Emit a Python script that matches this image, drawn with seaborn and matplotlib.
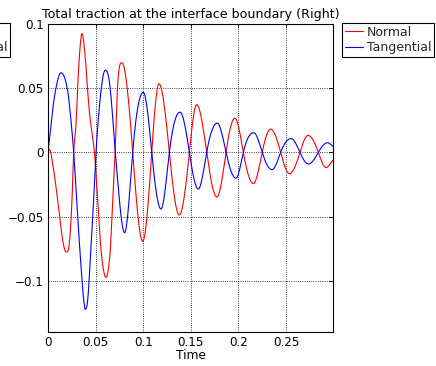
import numpy as np
import pandas as pd
import matplotlib
matplotlib.use("Agg")
import matplotlib.pyplot as plt
import seaborn as sns

# Normal traction: time (s) and value at turning points / crossings along the curve
normal_t = [0.0, 0.0015, 0.0049, 0.0102, 0.0154, 0.0189, 0.0224, 0.0252, 0.0270,
            0.0294, 0.0318, 0.0357, 0.0392, 0.0417, 0.0434, 0.0459, 0.0488,
            0.0522, 0.0557, 0.0609, 0.0654, 0.0680, 0.0705, 0.0732, 0.0777,
            0.0890, 0.0995, 0.1090, 0.1166, 0.1275, 0.1379, 0.1485, 0.1562,
            0.1667, 0.1775, 0.1870, 0.1963, 0.2052, 0.2157, 0.2250, 0.2339,
            0.2444, 0.2537, 0.2647, 0.2731, 0.2840, 0.2920, 0.2994]
normal_v = [0.0, 0.0023, -0.0088, -0.0373, -0.0684, -0.0775, -0.0710, -0.0373, 0.0,
            0.0218, 0.0607, 0.0925, 0.0736, 0.0477, 0.0321, 0.0166, 0.0,
            -0.0373, -0.0762, -0.0974, -0.0762, -0.0370, 0.0, 0.0530, 0.0698,
            0.0, -0.0692, 0.0, 0.0534, 0.0, -0.0488, 0.0, 0.0371,
            0.0, -0.0348, 0.0, 0.0266, 0.0, -0.0243, 0.0, 0.0181,
            0.0, -0.0166, 0.0, 0.0132, 0.0, -0.0119, -0.0062]

# Tangential traction
tangential_t = [0.0, 0.0032, 0.0066, 0.0137, 0.0207, 0.0242, 0.0270, 0.0312,
                0.0347, 0.0375, 0.0392, 0.0417, 0.0444, 0.0470, 0.0494, 0.0504,
                0.0539, 0.0575, 0.0602, 0.0644, 0.0680, 0.0707, 0.0804, 0.0890,
                0.1001, 0.1090, 0.1187, 0.1275, 0.1387, 0.1485, 0.1579, 0.1667,
                0.1778, 0.1870, 0.1975, 0.2052, 0.2161, 0.2250, 0.2353, 0.2444,
                0.2553, 0.2647, 0.2736, 0.2840, 0.2936, 0.2994]
tangential_v = [0.0, 0.0218, 0.0425, 0.0620, 0.0477, 0.0243, 0.0, -0.0503,
                -0.0892, -0.1150, -0.1223, -0.1150, -0.0840, -0.0500, -0.0140, 0.0,
                0.0348, 0.0580, 0.0640, 0.0555, 0.0270, 0.0, -0.0627, 0.0,
                0.0467, 0.0, -0.0442, 0.0, 0.0313, 0.0, -0.0286, 0.0,
                0.0228, 0.0, -0.0202, 0.0, 0.0153, 0.0, -0.0135, 0.0,
                0.0107, 0.0, -0.0091, 0.0, 0.0075, 0.0047]

series_names = ["Normal", "Tangential"]
series_colors = {"Normal": "#ff0000", "Tangential": "#0000ff"}

x_ticks = [0, 0.05, 0.1, 0.15, 0.2, 0.25]
x_tick_labels = ["0", "0.05", "0.1", "0.15", "0.2", "0.25"]
y_ticks = [-0.1, -0.05, 0, 0.05, 0.1]
y_tick_labels = ["\u22120.1", "\u22120.05", "0", "0.05", "0.1"]


def smooth_curve(tk, vk, per_seg=30):
    """Cubic Hermite trace through the knots; flat tangents at turning points."""
    tk = np.asarray(tk, float)
    vk = np.asarray(vk, float)
    n = len(tk)
    sec = np.diff(vk) / np.diff(tk)
    turning = np.zeros(n, bool)
    for i in range(1, n - 1):
        turning[i] = (vk[i] - vk[i - 1]) * (vk[i + 1] - vk[i]) <= 0
    m = np.zeros(n)
    m[0], m[-1] = sec[0], sec[-1]
    for i in range(1, n - 1):
        if turning[i]:
            m[i] = 0.0
        else:
            k = np.pi / 2 if (turning[i - 1] and turning[i + 1]) else 1.0
            m[i] = 0.5 * (sec[i - 1] + sec[i]) * k
    ts, vs = [], []
    for i in range(n - 1):
        h = tk[i + 1] - tk[i]
        s = np.linspace(0, 1, per_seg, endpoint=(i == n - 2))
        h00 = 2 * s**3 - 3 * s**2 + 1
        h10 = s**3 - 2 * s**2 + s
        h01 = -2 * s**3 + 3 * s**2
        h11 = s**3 - s**2
        ts.append(tk[i] + s * h)
        vs.append(h00 * vk[i] + h10 * h * m[i] + h01 * vk[i + 1] + h11 * h * m[i + 1])
    return np.concatenate(ts), np.concatenate(vs)


frames = []
for name, tk, vk in [("Normal", normal_t, normal_v),
                     ("Tangential", tangential_t, tangential_v)]:
    t, v = smooth_curve(tk, vk)
    frames.append(pd.DataFrame({"Time": t, "value": v, "series": name}))
df = pd.concat(frames, ignore_index=True)

sns.set_theme(style="white")
plt.rcParams["font.family"] = ["DejaVu Sans"]
plt.rcParams["axes.unicode_minus"] = True

W, H = 436, 366
fig = plt.figure(figsize=(W / 100, H / 100), dpi=100)
fig.patch.set_facecolor("white")
ax = fig.add_axes([48 / W, 1 - 332 / H, (333 - 48) / W, (332 - 24) / H])

sns.lineplot(data=df, x="Time", y="value", hue="series", hue_order=series_names,
             palette=series_colors, estimator=None, sort=False, linewidth=0.8,
             legend=False, ax=ax)

ax.set_xlim(0, normal_t[-1])
ax.set_ylim(-0.14, 0.1)
ax.set_xticks(x_ticks)
ax.set_xticklabels(x_tick_labels)
ax.set_yticks(y_ticks)
ax.set_yticklabels(y_tick_labels)
ax.tick_params(direction="in", top=True, right=True, length=3, width=0.6,
               labelsize=8.6, colors="black", pad=3)
ax.grid(True, linestyle=":", color="black", linewidth=0.6)
for sp in ax.spines.values():
    sp.set_color("black")
    sp.set_linewidth(0.8)
ax.set_xlabel("Time", fontsize=8.8, labelpad=0, color="black")
ax.set_ylabel("")
ax.set_title("Total traction at the interface boundary (Right)", fontsize=9.1,
             pad=4, color="black")

handles = [plt.Line2D([], [], color=series_colors[s], linewidth=0.8) for s in series_names]
legend_style = dict(frameon=True, fancybox=False, edgecolor="black", fontsize=9.0,
                    borderpad=0.2, handlelength=1.5, handletextpad=0.3,
                    labelspacing=0.22, borderaxespad=0, framealpha=1)
leg = fig.legend(handles, series_names, loc="upper left",
                 bbox_to_anchor=(342 / W, 1 - 23 / H), **legend_style)
leg.get_frame().set_linewidth(0.8)
leg2 = fig.legend(handles, series_names, loc="upper right",
                  bbox_to_anchor=(10 / W, 1 - 23 / H), **legend_style)
leg2.get_frame().set_linewidth(0.8)

fig.savefig("out.png", dpi=100, facecolor="white")
